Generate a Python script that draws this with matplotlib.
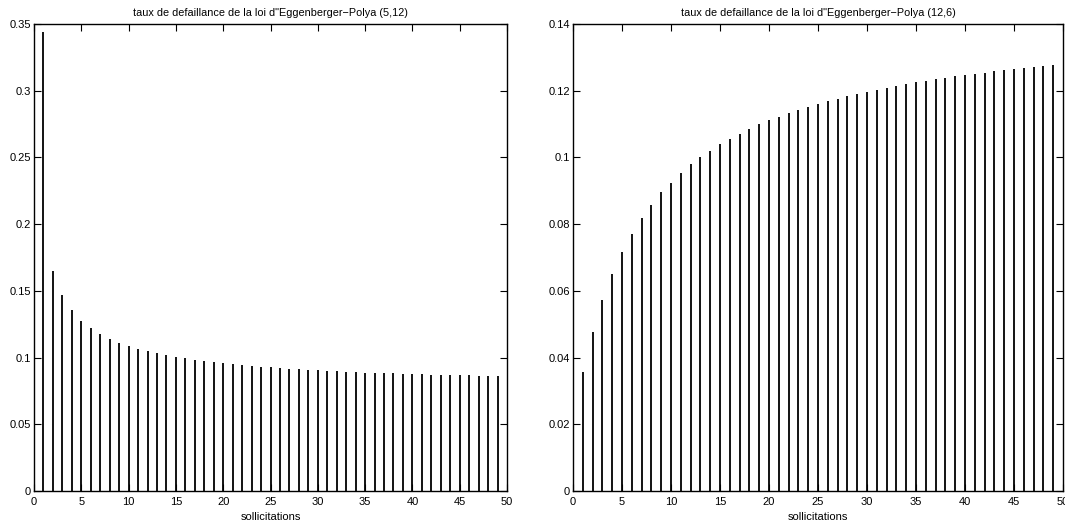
import matplotlib
matplotlib.use("Agg")
import matplotlib.pyplot as plt
from matplotlib.ticker import FixedLocator, FuncFormatter

plt.rcParams['font.family'] = ['Liberation Sans', 'DejaVu Sans']

x = list(range(1, 50))

hazard_5_12 = [0.344, 0.165, 0.147, 0.1359, 0.1277, 0.1221, 0.1178, 0.1141, 0.1111, 0.1086,
               0.1066, 0.1050, 0.1033, 0.1018, 0.1005, 0.0995, 0.0983, 0.0975, 0.0968, 0.0958,
               0.0950, 0.0942, 0.0937, 0.0932, 0.0926, 0.0921, 0.0916, 0.0912, 0.0908, 0.0904,
               0.0900, 0.0897, 0.0894, 0.0891, 0.0888, 0.0886, 0.0883, 0.0881, 0.0879, 0.0877,
               0.0875, 0.0873, 0.0871, 0.0870, 0.0868, 0.0866, 0.0865, 0.0864, 0.0862]

hazard_12_6 = [0.0358, 0.0478, 0.0573, 0.0651, 0.0715, 0.0770, 0.0817, 0.0858, 0.0895, 0.0924,
               0.0953, 0.0979, 0.1000, 0.1020, 0.1039, 0.1056, 0.1071, 0.1086, 0.1099, 0.1111,
               0.1122, 0.1133, 0.1143, 0.1152, 0.1161, 0.1169, 0.1176, 0.1184, 0.1190, 0.1197,
               0.1203, 0.1209, 0.1215, 0.1220, 0.1225, 0.1230, 0.1235, 0.1239, 0.1243, 0.1247,
               0.1251, 0.1254, 0.1258, 0.1261, 0.1264, 0.1267, 0.1270, 0.1273, 0.1276]

titles = ['taux de defaillance de la loi d"Eggenberger\u2212Polya (5,12)',
          'taux de defaillance de la loi d"Eggenberger\u2212Polya (12,6)']
xlabel = 'sollicitations'
xticks = list(range(0, 51, 5))
yticks_left = [0, 0.05, 0.1, 0.15, 0.2, 0.25, 0.3, 0.35]
yticks_right = [0, 0.02, 0.04, 0.06, 0.08, 0.1, 0.12, 0.14]

W, H = 1065, 529
fig = plt.figure(figsize=(W / 100, H / 100), dpi=100)

ax1 = fig.add_axes([34 / W, (H - 491) / H, 473 / W, 467 / H])
ax2 = fig.add_axes([573 / W, (H - 491) / H, 490 / W, 467 / H])

fmt = FuncFormatter(lambda v, p: '%g' % v)

for ax, data, title, yt in [(ax1, hazard_5_12, titles[0], yticks_left),
                            (ax2, hazard_12_6, titles[1], yticks_right)]:
    ax.vlines(x, 0, data, colors='black', linewidth=1.3)
    ax.set_xlim(0, 50)
    ax.set_ylim(yt[0], yt[-1])
    ax.xaxis.set_major_locator(FixedLocator(xticks))
    ax.yaxis.set_major_locator(FixedLocator(yt))
    ax.yaxis.set_major_formatter(fmt)
    ax.tick_params(direction='in', length=5, width=0.8, top=True, right=True,
                   labelsize=8, colors='black')
    ax.tick_params(axis='x', pad=4)
    ax.tick_params(axis='y', pad=2)
    for s in ax.spines.values():
        s.set_linewidth(1.0)
        s.set_color('black')
    ax.set_title(title, fontsize=7.8, pad=6)
    ax.set_xlabel(xlabel, fontsize=8, labelpad=4)

fig.savefig('out.png', dpi=100, facecolor='white')
